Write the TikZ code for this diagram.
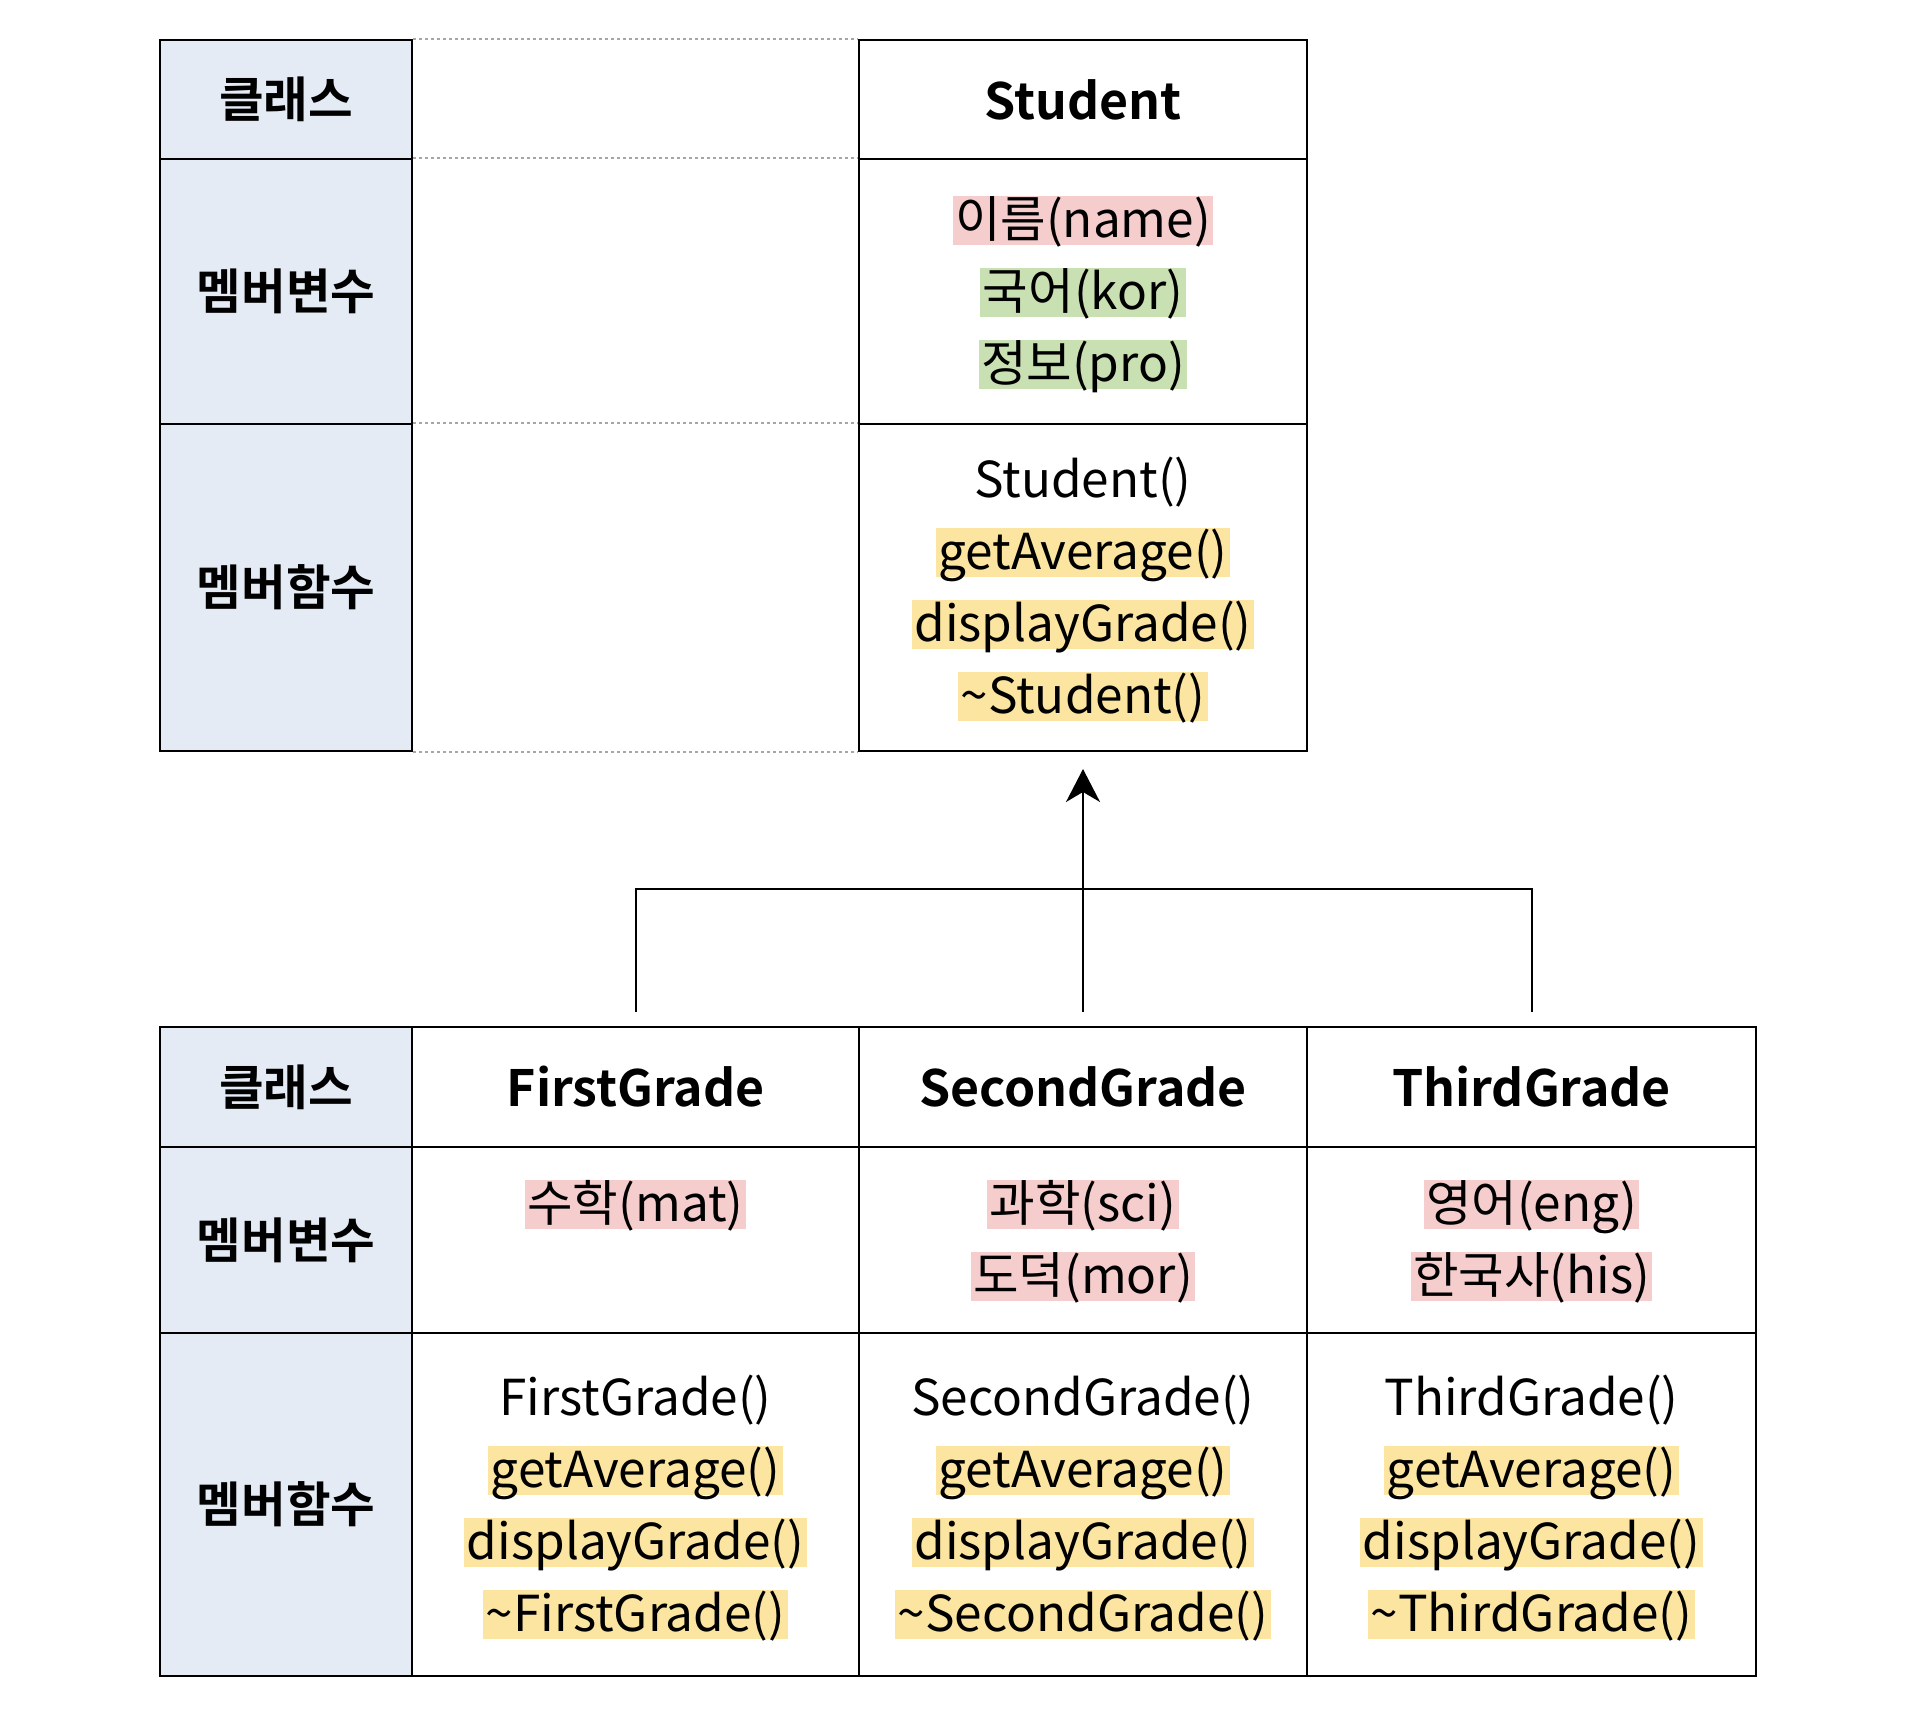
\documentclass[tikz,border=0pt]{standalone}
\usepackage{fontspec}
\setmainfont{Noto Sans CJK KR}[BoldFont={Noto Sans CJK KR Bold}]
\usetikzlibrary{arrows.meta}
\definecolor{lblue}{HTML}{E4EBF5}
\definecolor{hlpink}{HTML}{F5CDCC}
\definecolor{hlgreen}{HTML}{C8E0B2}
\definecolor{hlyellow}{HTML}{FBE5A1}
\definecolor{dotgray}{HTML}{A6A6A6}
\tikzset{
  cellbox/.style={draw=black, line width=2.2pt, inner sep=0pt},
  lblbox/.style={cellbox, fill=lblue, font=\fontsize{48.5}{58}\selectfont\bfseries},
  headbox/.style={cellbox, font=\fontsize{50}{60}\selectfont\bfseries},
  txt/.style={inner xsep=2.5pt, inner ysep=0pt, text height=41.5pt, text depth=7.5pt, font=\fontsize{49.5}{59}\selectfont},
  hl/.style={txt, fill=#1},
  dotline/.style={draw=dotgray, line width=2pt, dash pattern=on 2.5pt off 3.5pt},
  conn/.style={draw=black, line width=2pt},
}
\begin{document}
\begin{tikzpicture}[x=1pt,y=-1pt]
\useasboundingbox (0,0) rectangle (1916,1720);
% ---------- top table ----------
\node[lblbox, minimum width=252pt, minimum height=119pt] (tl1) at (286,99.5) {클래스};
\node[lblbox, minimum width=252pt, minimum height=265pt] (tl2) at (286,291.5) {멤버변수};
\node[lblbox, minimum width=252pt, minimum height=327pt] (tl3) at (286,587.5) {멤버함수};
\node[headbox, minimum width=448pt, minimum height=119pt] (s1) at (1083,99.5) {Student};
\node[cellbox, minimum width=448pt, minimum height=265pt] (s2) at (1083,291.5) {};
\node[cellbox, minimum width=448pt, minimum height=327pt] (s3) at (1083,587.5) {};
\draw[dotline] (tl1.north east) -- (s1.north west);
\draw[dotline] (tl2.north east) -- (s2.north west);
\draw[dotline] (tl3.north east) -- (s3.north west);
\draw[dotline] (tl3.south east) -- (s3.south west);
\node[hl=hlpink] (sv1) at (1083,220.5) {이름(name)};
\node[hl=hlgreen] (sv2) at (1083,292.5) {국어(kor)};
\node[hl=hlgreen] (sv3) at (1083,364.5) {정보(pro)};
\node[txt] (sf1) at (1083,480) {Student()};
\node[hl=hlyellow] (sf2) at (1083,552.5) {getAverage()};
\node[hl=hlyellow] (sf3) at (1083,624.5) {displayGrade()};
\node[hl=hlyellow] (sf4) at (1083,696.5) {\textasciitilde Student()};
% ---------- bottom table ----------
\node[lblbox, minimum width=252pt, minimum height=120pt] (bl1) at (286,1087) {클래스};
\node[lblbox, minimum width=252pt, minimum height=186pt] (bl2) at (286,1240) {멤버변수};
\node[lblbox, minimum width=252pt, minimum height=343pt] (bl3) at (286,1504.5) {멤버함수};
% FirstGrade
\node[headbox, minimum width=447pt, minimum height=120pt] (f1) at (635.5,1087) {FirstGrade};
\node[cellbox, minimum width=447pt, minimum height=186pt] (f2) at (635.5,1240) {};
\node[cellbox, minimum width=447pt, minimum height=343pt] (f3) at (635.5,1504.5) {};
% SecondGrade
\node[headbox, minimum width=448pt, minimum height=120pt] (g1) at (1083,1087) {SecondGrade};
\node[cellbox, minimum width=448pt, minimum height=186pt] (g2) at (1083,1240) {};
\node[cellbox, minimum width=448pt, minimum height=343pt] (g3) at (1083,1504.5) {};
% ThirdGrade
\node[headbox, minimum width=449pt, minimum height=120pt] (h1) at (1531.5,1087) {ThirdGrade};
\node[cellbox, minimum width=449pt, minimum height=186pt] (h2) at (1531.5,1240) {};
\node[cellbox, minimum width=449pt, minimum height=343pt] (h3) at (1531.5,1504.5) {};
% variables
\node[hl=hlpink] (fv1) at (635.5,1204.5) {수학(mat)};
\node[hl=hlpink] (gv1) at (1083,1204.5) {과학(sci)};
\node[hl=hlpink] (gv2) at (1083,1276.5) {도덕(mor)};
\node[hl=hlpink] (hv1) at (1531.5,1204.5) {영어(eng)};
\node[hl=hlpink] (hv2) at (1531.5,1276.5) {한국사(his)};
% functions
\node[txt] (ff1) at (635.5,1398) {FirstGrade()};
\node[hl=hlyellow] (ff2) at (635.5,1470) {getAverage()};
\node[hl=hlyellow] (ff3) at (635.5,1542) {displayGrade()};
\node[hl=hlyellow] (ff4) at (635.5,1614) {\textasciitilde FirstGrade()};
\node[txt] (gf1) at (1083,1398) {SecondGrade()};
\node[hl=hlyellow] (gf2) at (1083,1470) {getAverage()};
\node[hl=hlyellow] (gf3) at (1083,1542) {displayGrade()};
\node[hl=hlyellow] (gf4) at (1083,1614) {\textasciitilde SecondGrade()};
\node[txt] (hf1) at (1531.5,1398) {ThirdGrade()};
\node[hl=hlyellow] (hf2) at (1531.5,1470) {getAverage()};
\node[hl=hlyellow] (hf3) at (1531.5,1542) {displayGrade()};
\node[hl=hlyellow] (hf4) at (1531.5,1614) {\textasciitilde ThirdGrade()};
% ---------- inheritance connectors ----------
\coordinate (tip) at (1083,769);
\coordinate (jn) at (1083,889);
\coordinate (fa) at (635.5,1012);
\coordinate (ga) at (1083,1012);
\coordinate (ha) at (1531.5,1012);
\draw[conn] (fa) |- (jn) -| (ha);
\draw[conn, -{Stealth[length=33pt, width=34pt, inset=10pt]}] (ga) -- (tip);
\end{tikzpicture}
\end{document}
